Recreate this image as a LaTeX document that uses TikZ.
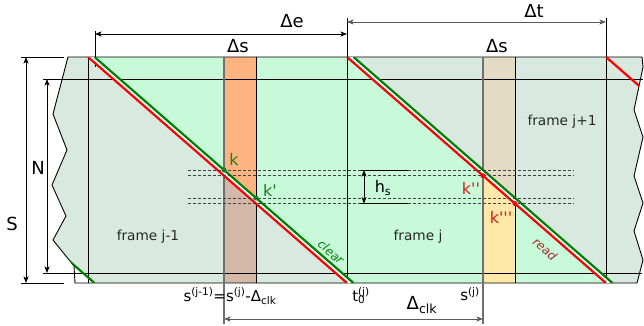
\documentclass[tikz,border=0pt]{standalone}
\usepackage{fontspec}
\setmainfont{DejaVu Sans}
\usetikzlibrary{arrows.meta}
\definecolor{lgreen}{HTML}{C8F9D9}
\definecolor{ggreen}{HTML}{D8EAE0}
\definecolor{orng}{HTML}{FFB380}
\definecolor{taupe}{HTML}{D5B9A8}
\definecolor{beige}{HTML}{E3DBC3}
\definecolor{yel}{HTML}{FFE8A8}
\definecolor{lred}{HTML}{FF0000}
\definecolor{lgrn}{HTML}{008000}
\definecolor{kgrn}{HTML}{1E7D1E}
\definecolor{kred}{HTML}{D42020}
\definecolor{rdred}{HTML}{A52A2A}
\definecolor{edgegray}{HTML}{707070}
\definecolor{dimgray}{HTML}{5A5A5A}
\newcommand\apo{\textquotesingle}
\begin{document}
\begin{tikzpicture}[x=1pt,y=-1pt,
 ln/.style={line width=0.9pt,draw=black},
 dimarr/.style={line width=0.9pt,{Stealth[length=6.5pt,width=5pt,inset=1.5pt]}-{Stealth[length=6.5pt,width=5pt,inset=1.5pt]}},
 big/.style={font=\fontsize{18}{20}\selectfont,inner sep=0pt},
 frm/.style={font=\fontsize{13.7}{16}\selectfont,inner sep=0pt,text=black!85},
 klab/.style={font=\fontsize{16}{18}\selectfont,inner sep=0pt},
 sub/.style={font=\fontsize{15}{17}\selectfont,inner sep=0pt},
 dashln/.style={line width=0.8pt,draw=black!75,dash pattern=on 3pt off 2pt},
 redln/.style={line width=2.2pt,draw=lred},
 grnln/.style={line width=2.2pt,draw=lgrn},
 gapln/.style={line width=4.3pt,draw=white},
 dotg/.style={circle,fill=kgrn,inner sep=0pt,minimum size=5pt},
 dotr/.style={circle,fill=lred,inner sep=0pt,minimum size=5pt},
 edge/.style={line width=1.8pt,draw=edgegray},
 slant/.style={inner sep=0pt,rotate=-41.1,font=\fontsize{12}{14}\selectfont\itshape}
]
\useasboundingbox (0,0) rectangle (644,325);

% band background
\fill[ggreen] (68,57) -- (53,114) -- (67,150) -- (52,185) -- (66,216) -- (53,240) -- (74,266) -- (75,283) -- (637,283) -- (643,260) -- (634,231) -- (643,203) -- (634,176) -- (643,137) -- (634,110) -- (643,67) -- (642,57) -- cycle;

\begin{scope}
\clip (68,57) -- (53,114) -- (67,150) -- (52,185) -- (66,216) -- (53,240) -- (74,266) -- (75,283) -- (637,283) -- (643,260) -- (634,231) -- (643,203) -- (634,176) -- (643,137) -- (634,110) -- (643,67) -- (642,57) -- cycle;
\fill[lgreen] (91.25,57) -- (350.25,57) -- (609.25,283) -- (350.25,283) -- cycle;
\fill[white] (74,266) -- (94.5,283) -- (75,283) -- cycle;
% strips
\fill[taupe] (224,57) rectangle (256,283);
\fill[orng] (224,57) -- (256,57) -- (256,200.8) -- (224,172.8) -- cycle;
\fill[yel] (483,57) rectangle (515,283);
\fill[beige] (483,57) -- (515,57) -- (515,200.8) -- (483,172.8) -- cycle;
% grid lines
\draw[ln] (88,57) -- (88,283);
\draw[ln] (256,57) -- (256,283);
\draw[ln] (515,57) -- (515,283);
\end{scope}

% outline
\draw[ln] (68,57) -- (53,114) -- (67,150) -- (52,185) -- (66,216) -- (53,240) -- (74,266) -- (75,283) -- (637,283) -- (643,260) -- (634,231) -- (643,203) -- (634,176) -- (643,137) -- (634,110) -- (643,67) -- (642,57) -- cycle;
\draw[ln] (43,79) -- (643,79);
\draw[ln] (43,273) -- (642,273);
\draw[ln] (347,18) -- (347,283);
\draw[ln] (606,18) -- (606,283);
\draw[ln] (95,31) -- (95,67);
\draw[ln] (21,57) -- (64,57);
\draw[ln] (21,283) -- (64,283);

% strip left edges (extended as ticks)
\draw[edge] (224,57) -- (224,324);
\draw[edge] (483,57) -- (483,324);

% diagonals
\begin{scope}
\clip (68,57) -- (53,114) -- (67,150) -- (52,185) -- (66,216) -- (53,240) -- (74,266) -- (75,283) -- (637,283) -- (643,260) -- (634,231) -- (643,203) -- (634,176) -- (643,137) -- (634,110) -- (643,67) -- (642,57) -- cycle;
\coordinate (c1a) at (91.25,57); \coordinate (c1b) at (350.25,283);
\coordinate (r1a) at (88,57);    \coordinate (r1b) at (347,283);
\coordinate (g1a) at (94.5,57);  \coordinate (g1b) at (353.5,283);
\coordinate (c2a) at (350.25,57); \coordinate (c2b) at (609.25,283);
\coordinate (r2a) at (347,57);    \coordinate (r2b) at (606,283);
\coordinate (g2a) at (353.5,57);  \coordinate (g2b) at (612.5,283);
\draw[gapln] (c1a) -- (c1b);
\draw[redln] (r1a) -- (r1b);
\draw[grnln] (g1a) -- (g1b);
\draw[gapln] (c2a) -- (c2b);
\draw[redln] (r2a) -- (r2b);
\draw[grnln] (g2a) -- (g2b);
\coordinate (r3a) at (606,57); \coordinate (r3b) at (865,283);
\draw[redln] (r3a) -- (r3b);
\coordinate (g0a) at (-164.5,57); \coordinate (g0b) at (94.5,283);
\draw[grnln] (g0a) -- (g0b);
\end{scope}

% dashed levels
\draw[dashln] (188,170) -- (574,170);
\draw[dashln] (188,175.7) -- (574,175.7);
\draw[dashln] (188,198) -- (574,198);
\draw[dashln] (188,203.6) -- (574,203.6);

% h_s
\draw[ln] (361,170) -- (408,170);
\draw[ln] (361,203.6) -- (408,203.6);
\coordinate (hsT) at (364,170);
\coordinate (hsB) at (364,203.6);
\draw[dimarr,black] (hsT) -- (hsB);
\node[klab] (hs) at (383,188) {h\textsubscript{s}};

% dots and k labels
\node[dotg] (pk) at (224,170) {};
\node[dotg] (pk1) at (256,198) {};
\node[dotr] (pk2) at (483,175.7) {};
\node[dotr] (pk3) at (515,203.6) {};
\node[klab,text=kgrn] (lk) at (234,159) {k};
\node[klab,text=kgrn] (lk1) at (270,190) {k\apo};
\node[klab,text=kred] (lk2) at (471,188) {k\apo\apo};
\node[klab,text=kred] (lk3) at (501,217) {k\apo\apo\apo};

% frame labels
\node[frm] (f1) at (148,237) {frame j-1};
\node[frm] (f2) at (418,237) {frame j};
\node[frm] (f3) at (562,122) {frame j+1};
\node[slant,text=lgrn] (clr) at (331,252) {clear};
\node[slant,text=rdred] (rd) at (545,249) {read};

% dimensions top
\coordinate (eL) at (95,34); \coordinate (eR) at (347,34);
\draw[dimarr,black] (eL) -- (eR);
\node[big] (de) at (292,21) {Δe};
\coordinate (tL) at (347,22); \coordinate (tR) at (606,22);
\draw[dimarr,dimgray] (tL) -- (tR);
\node[big] (dt) at (534,11) {Δt};
\node[big] (ds1) at (238,46) {Δs};
\node[big] (ds2) at (497,46) {Δs};

% left dimensions
\coordinate (sT) at (26,57); \coordinate (sB) at (26,283);
\draw[dimarr,black] (sT) -- (sB);
\node[big] (S) at (12,224) {S};
\coordinate (nT) at (47,79); \coordinate (nB) at (47,273);
\draw[dimarr,black] (nT) -- (nB);
\node[big] (N) at (38,168) {N};

% bottom
\coordinate (cL) at (224,319); \coordinate (cR) at (483,319);
\draw[dimarr,dimgray] (cL) -- (cR);
\node[big] (dclk) at (422,305) {Δ\textsubscript{clk}};
\node[sub] (sj1) at (230,296) {s\textsuperscript{(j-1)}=s\textsuperscript{(j)}-Δ\textsubscript{clk}};
\node[sub] (t0) at (361,296) {t\rlap{\textsubscript{0}}\textsuperscript{(j)}};
\node[sub] (sj) at (470,294) {s\textsuperscript{(j)}};
\end{tikzpicture}
\end{document}
